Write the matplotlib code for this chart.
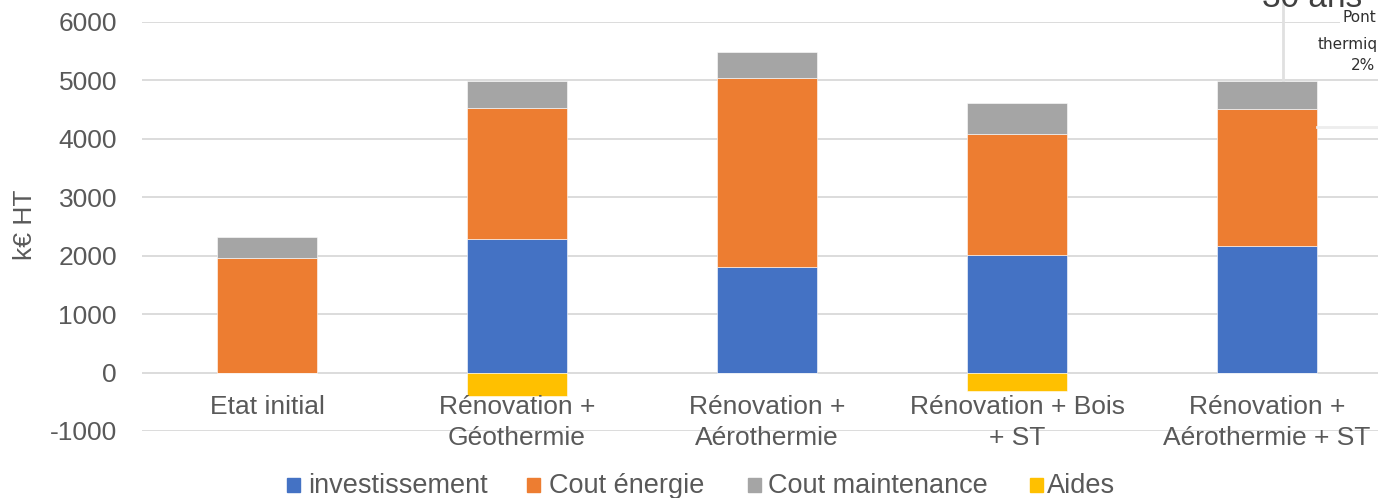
import matplotlib
matplotlib.use("Agg")
import matplotlib.pyplot as plt
from matplotlib.patches import Rectangle
import numpy as np

# données (k€ HT)
categories = ["Etat initial", "Rénovation +\nGéothermie", "Rénovation +\nAérothermie",
              "Rénovation + Bois\n+ ST", "Rénovation +\nAérothermie + ST"]
investissement = [0, 2285, 1810, 2010, 2170]
cout_energie = [1965, 2244, 3238, 2079, 2342]
cout_maintenance = [355, 462, 440, 531, 483]
aides = [0, -400, 0, -310, 0]

series = [("investissement", "#4472C4"), ("Cout énergie", "#ED7D31"),
          ("Cout maintenance", "#A5A5A5"), ("Aides", "#FFC000")]
yticks = list(range(-1000, 7000, 1000))

TXT = "#595959"
plt.rcParams["font.family"] = ["Liberation Sans", "DejaVu Sans"]

W, H = 1378, 498
fig = plt.figure(figsize=(W / 100, H / 100), dpi=100)


def px(x0, y0, w, h):
    # pixel box (depuis le haut) -> coordonnées figure
    return [x0 / W, 1 - (y0 + h) / H, w / W, h / H]


ax = fig.add_axes(px(142, 22, 1250, 409))
x = np.arange(len(categories))
bw = 0.4
bottom = np.zeros(len(categories))
for vals, (name, col) in zip([investissement, cout_energie, cout_maintenance], series[:3]):
    ax.bar(x, vals, bw, bottom=bottom, color=col, edgecolor="white", linewidth=0.4, zorder=2)
    bottom += np.array(vals)
ax.bar(x, aides, bw, color=series[3][1], edgecolor="white", linewidth=0.4, zorder=2)

ax.set_xlim(-0.5, len(categories) - 0.5)
ax.set_ylim(-1000, 6000)
ax.set_yticks(yticks)
ax.set_yticklabels([str(v) for v in yticks], fontsize=19, color=TXT)
ax.tick_params(axis="y", length=0, pad=18)
ax.set_xticks([])
ax.grid(axis="y", color="#D9D9D9", linewidth=1.3, zorder=0)
ax.set_axisbelow(True)
for sp in ax.spines.values():
    sp.set_visible(False)

# libellés de catégorie sous la ligne 0
for xi, lab in zip(x, categories):
    ax.annotate(lab, (xi, 0), xytext=(0, -16.5), textcoords="offset points",
                ha="center", va="top", fontsize=19, color=TXT, linespacing=1.32)

fig.text(25 / W, 1 - 225 / H, "k€ HT", rotation=90, ha="center", va="center",
         fontsize=19, color=TXT)

# légende manuelle en bas
leg_sq = [287, 527, 748, 1030]
leg_tx = [308, 549, 768, 1047]
for (name, col), sx, tx in zip(series, leg_sq, leg_tx):
    fig.add_artist(Rectangle((sx / W, 1 - 492 / H), 13 / W, 14 / H,
                             transform=fig.transFigure, color=col))
    fig.text(tx / W, 1 - 486 / H, name, ha="left", va="center", fontsize=19.5, color=TXT)

# morceau d'un autre graphique qui déborde en haut à droite
fig.add_artist(Rectangle((1340 / W, 1 - 75 / H), 40 / W, 65 / H,
                         transform=fig.transFigure, facecolor="white",
                         edgecolor="none", zorder=5))
fig.add_artist(plt.Line2D([1283 / W] * 2, [1, 1 - 80 / H], transform=fig.transFigure,
                          color="#E0E0E0", linewidth=2, zorder=6))
fig.add_artist(plt.Line2D([1317 / W, 1], [1 - 127 / H] * 2, transform=fig.transFigure,
                          color="#EDEDED", linewidth=2, zorder=6))
fig.text(1262 / W, 1 - 7 / H, "30 ans", ha="left", va="baseline", fontsize=24,
         color="#404040", zorder=7)
for t, tx, ty in [("Pont", 1343, 17), ("thermiq", 1318, 45), ("2%", 1351, 65)]:
    fig.text(tx / W, 1 - ty / H, t, ha="left", va="center", fontsize=11,
             color="#303030", zorder=7, family=["DejaVu Sans"])

fig.savefig("out.png", dpi=100)
